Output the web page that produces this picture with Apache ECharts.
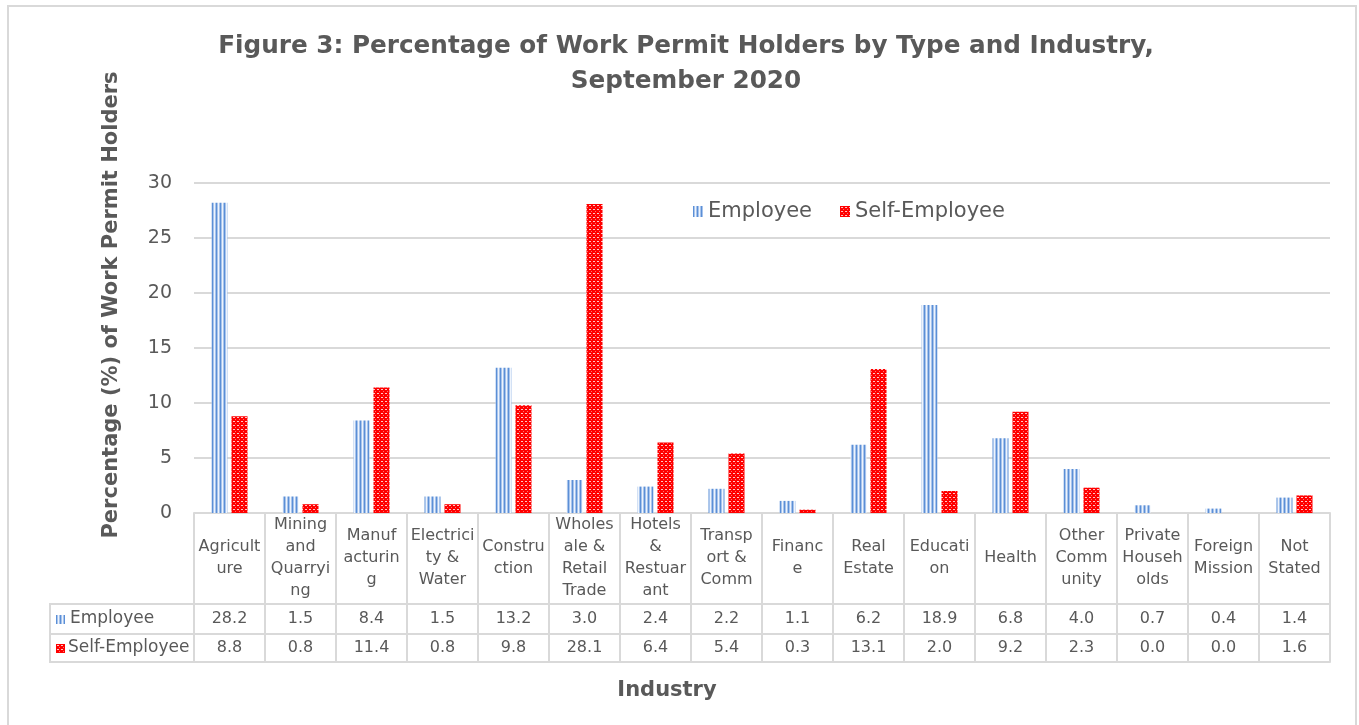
<!DOCTYPE html>
<html>
<head>
<meta charset="utf-8">
<title>Work Permit Holders by Type and Industry</title>
<script src="https://cdn.jsdelivr.net/npm/echarts@6/dist/echarts.min.js"></script>
<style>
  html, body { margin: 0; padding: 0; background: #fff; }
  #main { width: 1359px; height: 725px; }
</style>
</head>
<body>
<div id="main"></div>
<script>
// data
const categories = ['Agriculture', 'Mining and Quarrying', 'Manufacturing', 'Electricity & Water',
  'Construction', 'Wholesale & Retail Trade', 'Hotels & Restuarant', 'Transport & Comm', 'Finance',
  'Real Estate', 'Education', 'Health', 'Other Community', 'Private Households', 'Foreign Mission', 'Not Stated'];
// how the category names wrap inside the table cells
const categoryLabels = ['Agricult\nure', 'Mining\nand\nQuarryi\nng', 'Manuf\nacturin\ng', 'Electrici\nty &\nWater',
  'Constru\nction', 'Wholes\nale &\nRetail\nTrade', 'Hotels\n&\nRestuar\nant', 'Transp\nort &\nComm', 'Financ\ne',
  'Real\nEstate', 'Educati\non', 'Health', 'Other\nComm\nunity', 'Private\nHouseh\nolds', 'Foreign\nMission', 'Not\nStated'];
const employee = [28.2, 1.5, 8.4, 1.5, 13.2, 3.0, 2.4, 2.2, 1.1, 6.2, 18.9, 6.8, 4.0, 0.7, 0.4, 1.4];
const selfEmployee = [8.8, 0.8, 11.4, 0.8, 9.8, 28.1, 6.4, 5.4, 0.3, 13.1, 2.0, 9.2, 2.3, 0.0, 0.0, 1.6];
const seriesNames = ['Employee', 'Self-Employee'];

const FONT = 'DejaVu Sans';
const TEXT = '#595959';
const LINE = '#d9d9d9';

// fill patterns like the Excel ones
function stripes() {
  const c = document.createElement('canvas');
  c.width = 4; c.height = 4;
  const g = c.getContext('2d');
  g.fillStyle = '#eef4fc'; g.fillRect(0, 0, 4, 4);
  g.fillStyle = '#5b8fd6'; g.fillRect(0, 0, 1, 4);
  g.fillStyle = '#a8c4ec'; g.fillRect(1, 0, 1, 4); g.fillRect(3, 0, 1, 4);
  return { image: c, repeat: 'repeat' };
}
function dots() {
  const c = document.createElement('canvas');
  c.width = 4; c.height = 4;
  const g = c.getContext('2d');
  g.fillStyle = '#ff0000'; g.fillRect(0, 0, 4, 4);
  g.fillStyle = '#ffc8c8'; g.fillRect(1, 1, 2, 1);
  g.fillStyle = '#ff7070'; g.fillRect(3, 3, 1, 1);
  return { image: c, repeat: 'repeat' };
}
const blueFill = stripes();
const redFill = dots();

const fmt = v => v.toFixed(1);

const myChart = echarts.init(document.getElementById('main'));

const option = {
  backgroundColor: '#fff',
  animation: false,
  title: {
    text: 'Figure 3: Percentage of Work Permit Holders by Type and Industry,\nSeptember 2020',
    left: 681,
    top: 24,
    textAlign: 'center',
    textStyle: { fontFamily: FONT, fontWeight: 'bold', fontSize: 24.7, lineHeight: 35, color: TEXT }
  },
  legend: {
    left: 688,
    top: 196,
    itemWidth: 10,
    itemHeight: 11,
    itemGap: 28,
    icon: 'rect',
    data: seriesNames,
    textStyle: { fontFamily: FONT, fontSize: 21, color: TEXT }
  },
  grid: { left: 194, right: 29, top: 183, bottom: 212 },
  yAxis: {
    type: 'value',
    min: 0,
    max: 30,
    interval: 5,
    axisLine: { show: false },
    axisTick: { show: false },
    axisLabel: { fontFamily: FONT, fontSize: 19, color: TEXT, margin: 22 },
    splitLine: { lineStyle: { color: LINE, width: 2 } }
  },
  xAxis: [
    {
      // header row of the data table
      type: 'category',
      data: categoryLabels,
      position: 'bottom',
      axisLine: { lineStyle: { color: LINE, width: 2 } },
      axisTick: { show: true, interval: 0, length: 149, lineStyle: { color: LINE, width: 2 } },
      axisLabel: {
        interval: 0, fontFamily: FONT, fontSize: 16, lineHeight: 22, color: TEXT,
        margin: 45, verticalAlign: 'middle'
      }
    },
    {
      type: 'category',
      data: employee.map(fmt),
      position: 'bottom',
      offset: 91,
      axisLine: { lineStyle: { color: LINE, width: 2 } },
      axisTick: { show: false },
      axisLabel: { interval: 0, fontFamily: FONT, fontSize: 16, color: TEXT, margin: 15, verticalAlign: 'middle' }
    },
    {
      type: 'category',
      data: selfEmployee.map(fmt),
      position: 'bottom',
      offset: 121,
      axisLine: { lineStyle: { color: LINE, width: 2 } },
      axisTick: { show: false },
      axisLabel: { interval: 0, fontFamily: FONT, fontSize: 16, color: TEXT, margin: 14, verticalAlign: 'middle' }
    },
    {
      // bottom edge of the table
      type: 'category',
      data: categories,
      position: 'bottom',
      offset: 149,
      axisLine: { lineStyle: { color: LINE, width: 2 } },
      axisTick: { show: false },
      axisLabel: { show: false }
    }
  ],
  series: [
    {
      name: seriesNames[0],
      type: 'bar',
      data: employee,
      barWidth: 16,
      barGap: '25%',
      itemStyle: { color: blueFill }
    },
    {
      name: seriesNames[1],
      type: 'bar',
      data: selfEmployee,
      barWidth: 16,
      itemStyle: { color: redFill }
    }
  ],
  graphic: [
    // chart frame
    {
      type: 'rect',
      shape: { x: 8, y: 6, width: 1348, height: 740 },
      style: { fill: 'none', stroke: LINE, lineWidth: 2 },
      silent: true
    },
    // axis titles (Excel centres them on the whole chart, not the plot)
    {
      type: 'text',
      x: 112, y: 305,
      rotation: Math.PI / 2,
      style: {
        text: 'Percentage (%) of Work Permit Holders', font: 'bold 21px "DejaVu Sans"',
        fill: TEXT, align: 'center', verticalAlign: 'middle'
      }
    },
    {
      type: 'text',
      x: 667, y: 691,
      style: { text: 'Industry', font: 'bold 21px "DejaVu Sans"', fill: TEXT, align: 'center', verticalAlign: 'middle' }
    },
    // row-label cells of the table
    {
      type: 'rect',
      shape: { x: 50, y: 604, width: 144, height: 58 },
      style: { fill: 'none', stroke: LINE, lineWidth: 2 }
    },
    {
      type: 'line',
      shape: { x1: 50, y1: 634, x2: 194, y2: 634 },
      style: { stroke: LINE, lineWidth: 2 }
    },
    {
      type: 'rect',
      shape: { x: 56, y: 615, width: 9, height: 9 },
      style: { fill: blueFill }
    },
    {
      type: 'text',
      x: 70, y: 619,
      style: { text: seriesNames[0], font: '17px "DejaVu Sans"', fill: TEXT, verticalAlign: 'middle' }
    },
    {
      type: 'rect',
      shape: { x: 56, y: 644, width: 9, height: 9 },
      style: { fill: redFill }
    },
    {
      type: 'text',
      x: 68, y: 648,
      style: { text: seriesNames[1], font: '17px "DejaVu Sans"', fill: TEXT, verticalAlign: 'middle' }
    }
  ]
};

myChart.setOption(option);
</script>
</body>
</html>
